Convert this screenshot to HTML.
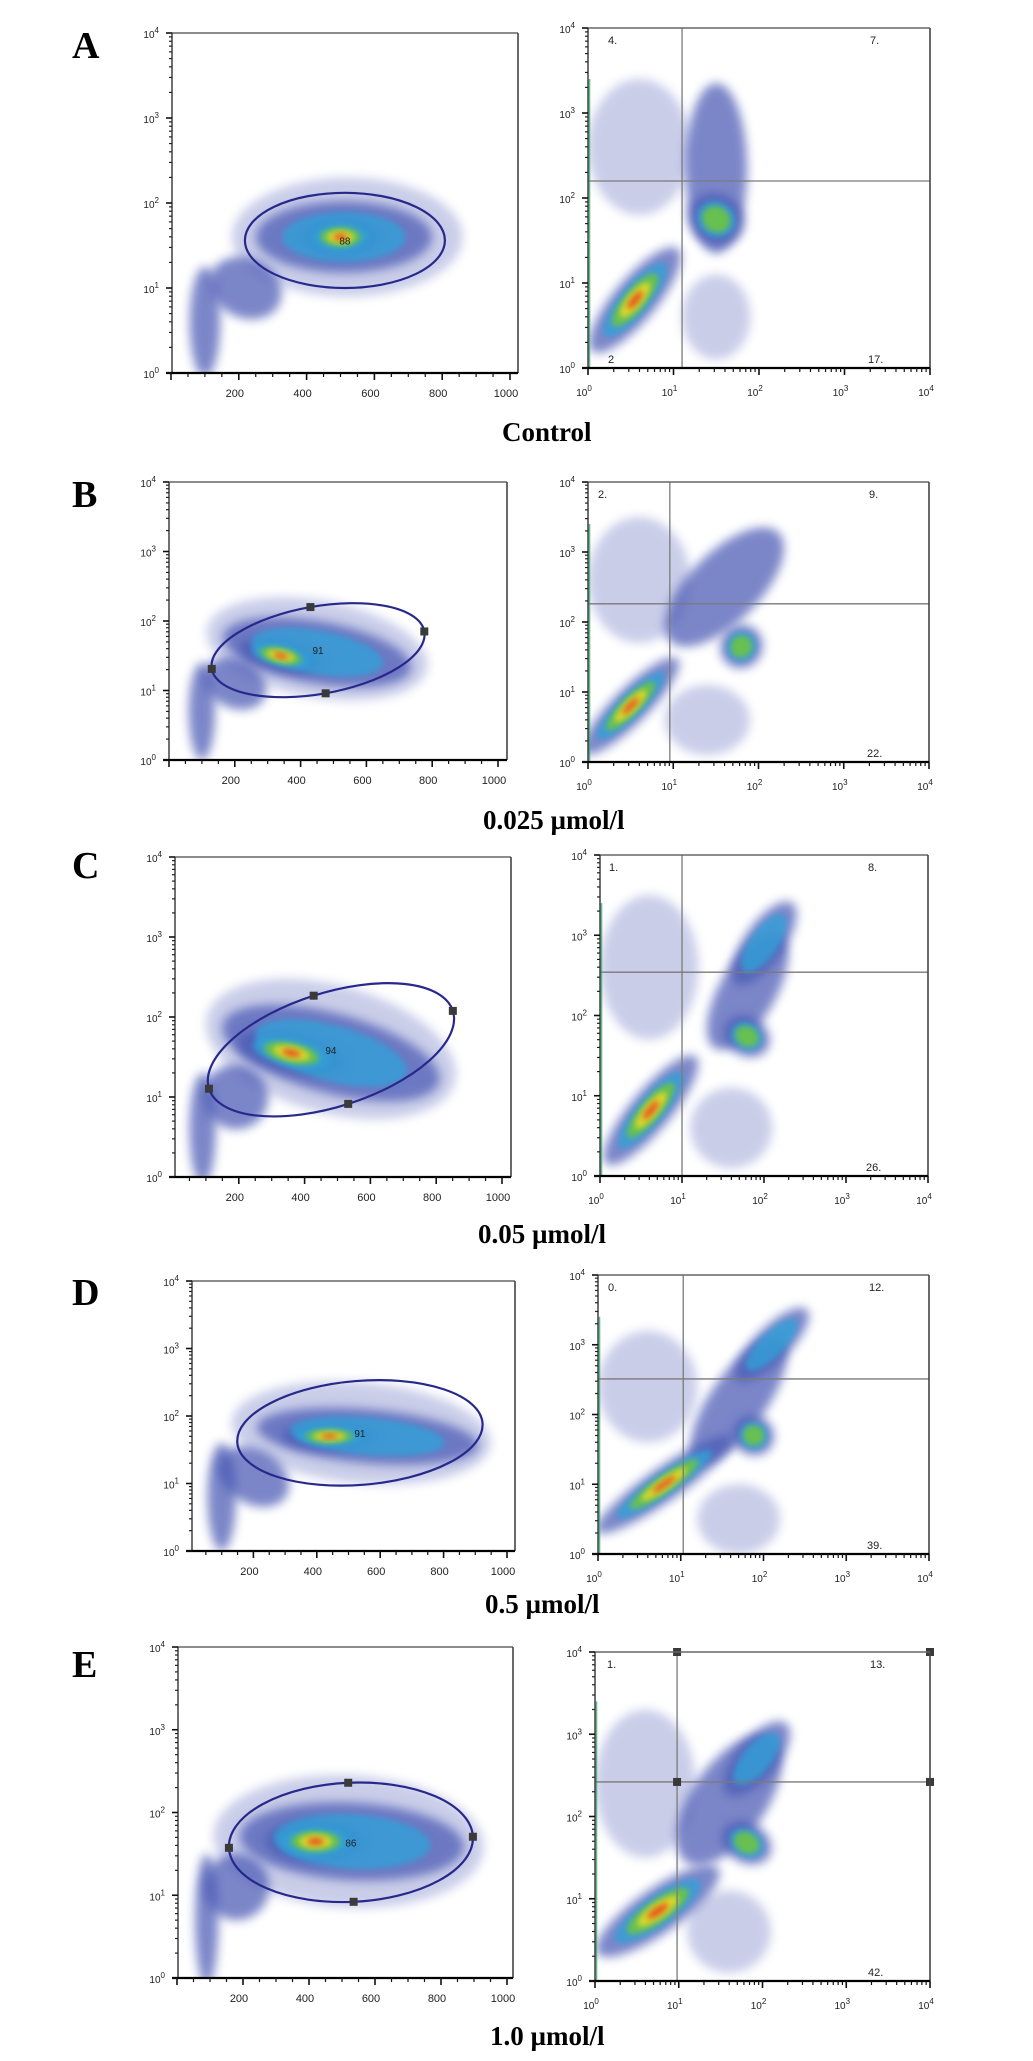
<!DOCTYPE html>
<html>
<head>
<meta charset="utf-8">
<style>
  html,body{margin:0;padding:0;background:#fff;}
  svg{display:block;}
  .lab{font-family:"Liberation Serif",serif;font-weight:bold;fill:#000;}
  .tk{font-family:"Liberation Sans",sans-serif;fill:#222;}
</style>
</head>
<body>
<svg id="fig" xmlns="http://www.w3.org/2000/svg" width="1033" height="2061" viewBox="0 0 1033 2061">
  <defs>
    <filter id="blurA" x="-50%" y="-50%" width="200%" height="200%"><feGaussianBlur stdDeviation="5"/></filter>
    <filter id="blurB" x="-50%" y="-50%" width="200%" height="200%"><feGaussianBlur stdDeviation="3"/></filter>
  </defs>
</svg>
<script>
// ---------- data ----------
const panelIds = ['A','B','C','D','E'];
const conditionLabels = ['Control','0.025 \u00b5mol/l','0.05 \u00b5mol/l','0.5 \u00b5mol/l','1.0 \u00b5mol/l'];
const gateValues = ['88','91','94','91','86'];
const gateCenterX = [513, 453, 480, 536, 527];
const gateCenterY = [1.56, 1.58, 1.59, 1.75, 1.64];
const gateRx = [295, 328, 389, 388, 370];
const gateRy = [0.56, 0.63, 0.71, 0.77, 0.72];
const gateAngle = [0, -10, -17.7, -4.6, -2.6];
const gateHandles = [false, true, true, false, true];
const quadUL = ['4.','2.','1.','0.','1.'];
const quadUR = ['7.','9.','8.','12.','13.'];
const quadLR = ['17.','22.','26.','39.','42.'];
const quadX = [1.10, 0.96, 1.00, 1.03, 0.98];
const quadY = [2.20, 2.26, 2.54, 2.51, 2.42];
const xTickValues = [200, 400, 600, 800, 1000];
const logTickValues = [0, 1, 2, 3, 4];
// clusters: [cx, cy, rx, ry, angleDeg, peakLevel]; left: x linear, y log decades; right: both log decades
const leftClustersA = [[520,1.6,340,0.7,0,-1],[100,0.6,45,0.65,0,0],[220,1.0,110,0.35,-25,0],[510,1.6,260,0.42,0,1],[500,1.6,120,0.22,0,4]];
const leftClustersB = [[450,1.6,340,0.7,-10,-1],[100,0.7,40,0.7,0,0],[200,1.1,100,0.35,-25,0],[450,1.55,290,0.45,-10,1],[340,1.5,130,0.22,-12,4]];
const leftClustersC = [[480,1.6,390,0.8,-15,-1],[90,0.6,40,0.7,0,0],[190,1.0,100,0.4,-30,0],[480,1.55,340,0.5,-15,1],[360,1.55,170,0.25,-12,4]];
const leftClustersD = [[540,1.75,410,0.75,-5,-1],[100,0.8,45,0.8,0,0],[200,1.1,120,0.4,-30,0],[560,1.7,350,0.4,-5,1],[440,1.7,150,0.2,0,4]];
const leftClustersE = [[520,1.65,410,0.8,-3,-1],[90,0.7,35,0.8,0,0],[180,1.1,100,0.4,-30,0],[530,1.65,340,0.47,-3,1],[420,1.65,150,0.25,0,4]];
const rightClustersA = [[0.6,2.6,0.6,0.8,0,-1],[1.5,0.6,0.4,0.5,0,-1],[1.5,2.35,0.36,1.0,0,0],[1.5,1.75,0.3,0.34,60,2],[0.55,0.8,0.78,0.25,50,4]];
const rightClustersB = [[0.6,2.6,0.6,0.9,0,-1],[1.4,0.6,0.5,0.5,0,-1],[1.6,2.5,0.9,0.5,45,0],[1.8,1.65,0.26,0.3,60,2],[0.5,0.8,0.78,0.25,45,4]];
const rightClustersC = [[0.6,2.6,0.6,0.9,0,-1],[1.6,0.6,0.5,0.5,0,-1],[1.8,2.3,0.8,0.35,60,0],[2.0,2.9,0.6,0.25,55,1],[1.79,1.74,0.24,0.3,60,2],[0.62,0.82,0.85,0.25,50,4]];
const rightClustersD = [[0.6,2.4,0.6,0.8,0,-1],[1.7,0.5,0.5,0.5,0,-1],[1.7,2.2,0.9,0.4,55,0],[2.1,3.0,0.6,0.25,45,1],[1.88,1.7,0.24,0.3,60,2],[0.8,1.0,1.0,0.24,35,4]];
const rightClustersE = [[0.6,2.4,0.6,0.9,0,-1],[1.6,0.6,0.5,0.5,0,-1],[1.6,2.2,0.9,0.45,55,0],[1.93,2.7,0.55,0.25,50,1],[1.81,1.68,0.24,0.32,60,2],[0.75,0.85,0.88,0.27,35,4]];
const leftClusterSets = [leftClustersA, leftClustersB, leftClustersC, leftClustersD, leftClustersE];
const rightClusterSets = [rightClustersA, rightClustersB, rightClustersC, rightClustersD, rightClustersE];

// ---------- geometry (layout, not data) ----------
const LEFT = [
  {l:172,r:518,t:33,b:373,z:171,k:510},
  {l:169,r:507,t:482,b:760,z:169,k:498},
  {l:175,r:511,t:857,b:1177,z:173,k:502},
  {l:192,r:515,t:1281,b:1551,z:190,k:507},
  {l:178,r:513,t:1647,b:1978,z:177,k:507}
];
const RIGHT = [
  {l:588,r:930,t:28,b:368,ul:20},
  {l:588,r:929,t:482,b:762,ul:10},
  {l:600,r:928,t:855,b:1176,ul:9},
  {l:598,r:929,t:1275,b:1554,ul:10},
  {l:595,r:930,t:1652,b:1981,ul:12}
];
const LETTER_Y = [58, 507, 878, 1305, 1677];
const COND_POS = [[502,441],[483,829],[478,1243],[485,1613],[490,2045]];

const NS = 'http://www.w3.org/2000/svg';
const svg = document.getElementById('fig');
function mk(tag, attrs, parent){
  const e = document.createElementNS(NS, tag);
  for (const k in attrs) e.setAttribute(k, attrs[k]);
  (parent || svg).appendChild(e);
  return e;
}
const LEVEL_COLORS = ['#4858b4','#30a0d8','#6cc444','#e6da2a','#e8441e'];
const LEVEL_SCALE = [1, 0.7, 0.5, 0.33, 0.17];
const LEVEL_OPACITY = [0.72, 0.8, 0.92, 0.92, 0.92];

function linX(L, v){ return L.z + (L.k - L.z) * v / 1000; }
function logY(F, v){ return F.b - (F.b - F.t) * v / 4; }
function logX(F, v){ return F.l + (F.r - F.l) * v / 4; }

function drawClusters(parent, clusters, toPx, scaleX, scaleY, prefix){
  clusters.forEach(function(c, ci){
    if (c[5] >= 0) return;
    const p = toPx(c[0], c[1]);
    const e = mk('ellipse', {cx:p[0], cy:p[1], rx:c[2]*scaleX, ry:c[3]*scaleY,
      transform:'rotate(' + (-c[4]) + ' ' + p[0] + ' ' + p[1] + ')',
      fill:'#7a84c8', opacity:0.4, filter:'url(#blurA)'}, parent);
    
    
  });
  for (let lv = 0; lv <= 4; lv++){
    clusters.forEach(function(c, ci){
      if (c[5] < lv) return;
      const p = toPx(c[0], c[1]);
      const s = LEVEL_SCALE[lv];
      const e = mk('ellipse', {cx:p[0], cy:p[1], rx:c[2]*scaleX*s, ry:c[3]*scaleY*s,
        transform:'rotate(' + (-c[4]) + ' ' + p[0] + ' ' + p[1] + ')',
        fill:LEVEL_COLORS[lv], opacity:LEVEL_OPACITY[lv],
        filter: lv === 0 ? 'url(#blurA)' : 'url(#blurB)'}, parent);
      
      
    });
  }
}

function tenLabel(parent, x, y, exp, anchor, name){
  const t = mk('text', {x:x, y:y, 'font-size':10, 'text-anchor':anchor, class:'tk'}, parent);
  
  
  t.appendChild(document.createTextNode('10'));
  const s = mk('tspan', {dy:-5, 'font-size':8}, t);
  s.textContent = String(exp);
}

function drawLogYAxis(parent, F, prefix){
  for (let d = 0; d < 4; d++){
    for (let m = 2; m <= 9; m++){
      const y = logY(F, d + Math.log10(m));
      const tk = mk('line', {x1:F.l-3, x2:F.l, y1:y, y2:y, stroke:'#222', 'stroke-width':1.2}, parent);
      
      
    }
  }
  logTickValues.forEach(function(v){
    const y = logY(F, v);
    const tk = mk('line', {x1:F.l-6, x2:F.l, y1:y, y2:y, stroke:'#111', 'stroke-width':1.6}, parent);
    
    
    tenLabel(parent, F.l-13, y+5, v, 'end', prefix + '-y-tick-label');
  });
}

function drawFrame(parent, F, prefix){
  const top = mk('line', {x1:F.l, x2:F.r, y1:F.t, y2:F.t, stroke:'#666', 'stroke-width':1.4}, parent);
  
  
  const right = mk('line', {x1:F.r, x2:F.r, y1:F.t, y2:F.b, stroke:'#444', 'stroke-width':1.6}, parent);
  
  
  const left = mk('line', {x1:F.l, x2:F.l, y1:F.t, y2:F.b, stroke:'#333', 'stroke-width':1.4}, parent);
  
  
  const bottom = mk('line', {x1:F.l-6, x2:F.r, y1:F.b, y2:F.b, stroke:'#000', 'stroke-width':2.2}, parent);
  
  
}

panelIds.forEach(function(pid, i){
  const g = mk('g', {});
  
  

  const letter = mk('text', {x:72, y:LETTER_Y[i], 'font-size':38, class:'lab'}, g);
  
  
  letter.textContent = pid;

  const cond = mk('text', {x:COND_POS[i][0], y:COND_POS[i][1], 'font-size':27, class:'lab'}, g);
  
  
  cond.textContent = conditionLabels[i];

  // ---------------- left scatter ----------------
  const L = LEFT[i];
  const lp = 'left-plot-' + pid.toLowerCase();
  const lg = mk('g', {}, g);
  
  
  const cpL = mk('clipPath', {id:'clipL' + i}, lg);
  
  
  const cr = mk('rect', {x:L.l, y:L.t, width:L.r-L.l, height:L.b-L.t}, cpL);
  
  
  const dl = mk('g', {'clip-path':'url(#clipL' + i + ')'}, lg);
  
  
  const sxL = (L.k - L.z) / 1000, syL = (L.b - L.t) / 4;
  drawClusters(dl, leftClusterSets[i], function(x, y){ return [linX(L, x), logY(L, y)]; }, sxL, syL, lp);

  const gcx = linX(L, gateCenterX[i]), gcy = logY(L, gateCenterY[i]);
  const grx = gateRx[i] * sxL, gry = gateRy[i] * syL;
  const gate = mk('ellipse', {cx:gcx, cy:gcy, rx:grx, ry:gry, transform:'rotate(' + gateAngle[i] + ' ' + gcx + ' ' + gcy + ')',
    fill:'none', stroke:'#28288c', 'stroke-width':2.2}, lg);
  
  
  const gv = mk('text', {x:gcx, y:gcy+4, 'font-size':10, 'text-anchor':'middle', class:'tk', fill:'#333'}, lg);
  
  
  gv.textContent = gateValues[i];
  if (gateHandles[i]){
    const a = gateAngle[i] * Math.PI / 180;
    const pts = [[grx,0],[-grx,0],[0,gry],[0,-gry]];
    pts.forEach(function(p){
      const hx = gcx + p[0]*Math.cos(a) - p[1]*Math.sin(a);
      const hy = gcy + p[0]*Math.sin(a) + p[1]*Math.cos(a);
      const h = mk('rect', {x:hx-4, y:hy-4, width:8, height:8, fill:'#3a3a3a'}, lg);
      
      
    });
  }
  drawFrame(lg, L, lp);
  drawLogYAxis(lg, L, lp);
  for (let v = 0; v <= 1000; v += 50){
    const x = linX(L, v);
    if (x < L.l - 1) continue;
    const major = v % 200 === 0;
    const tk = mk('line', {x1:x, x2:x, y1:L.b, y2:L.b + (major ? 7 : 4), stroke:'#111', 'stroke-width':major ? 1.6 : 1.2}, lg);
    
    
  }
  xTickValues.forEach(function(v){
    const t = mk('text', {x:linX(L, v) - 4, y:L.b + 24, 'font-size':11, 'text-anchor':'middle', class:'tk'}, lg);
    
    
    t.textContent = String(v);
  });

  // ---------------- right scatter ----------------
  const R = RIGHT[i];
  const rp = 'right-plot-' + pid.toLowerCase();
  const rg = mk('g', {}, g);
  
  
  const cpR = mk('clipPath', {id:'clipR' + i}, rg);
  
  
  const crr = mk('rect', {x:R.l, y:R.t, width:R.r-R.l, height:R.b-R.t}, cpR);
  
  
  const dr = mk('g', {'clip-path':'url(#clipR' + i + ')'}, rg);
  
  
  const sxR = (R.r - R.l) / 4, syR = (R.b - R.t) / 4;
  drawClusters(dr, rightClusterSets[i], function(x, y){ return [logX(R, x), logY(R, y)]; }, sxR, syR, rp);
  const green = mk('line', {x1:R.l+1.5, x2:R.l+1.5, y1:R.t + (R.b-R.t)*0.15, y2:R.b, stroke:'#3aa870', 'stroke-width':1.6, opacity:0.8}, dr);
  
  

  const qx = logX(R, quadX[i]), qy = logY(R, quadY[i]);
  const vq = mk('line', {x1:qx, x2:qx, y1:R.t, y2:R.b, stroke:'#7a7a7a', 'stroke-width':1.3}, rg);
  
  
  const hq = mk('line', {x1:R.l, x2:R.r, y1:qy, y2:qy, stroke:'#7a7a7a', 'stroke-width':1.3}, rg);
  
  
  if (i === 4){
    [[qx,R.t],[qx,qy],[R.r,qy],[R.r,R.t]].forEach(function(p){
      const h = mk('rect', {x:p[0]-4, y:p[1]-4, width:8, height:8, fill:'#3a3a3a'}, rg);
      
      
    });
  }
  drawFrame(rg, R, rp);
  drawLogYAxis(rg, R, rp);
  for (let d = 0; d < 4; d++){
    for (let m = 2; m <= 9; m++){
      const x = logX(R, d + Math.log10(m));
      const tk = mk('line', {x1:x, x2:x, y1:R.b, y2:R.b+4, stroke:'#111', 'stroke-width':1.2}, rg);
      
      
    }
  }
  logTickValues.forEach(function(v){
    const x = logX(R, v);
    const tk = mk('line', {x1:x, x2:x, y1:R.b, y2:R.b+7, stroke:'#111', 'stroke-width':1.6}, rg);
    
    
    tenLabel(rg, x - 4, R.b + 28, v, 'middle', rp + '-x-tick-label');
  });
  const qs = [[quadUL[i], R.l + R.ul, R.t + 16, 'upper-left'], [quadUR[i], R.r - 60, R.t + 16, 'upper-right'], [quadLR[i], R.r - 62, R.b - 5, 'lower-right']];
  if (i === 0) qs.push(['2', R.l + 20, R.b - 5, 'lower-left']);
  qs.forEach(function(q){
    const t = mk('text', {x:q[1], y:q[2], 'font-size':11, class:'tk', fill:'#555'}, rg);
    
    
    t.textContent = q[0];
  });
});
</script>
</body>
</html>
